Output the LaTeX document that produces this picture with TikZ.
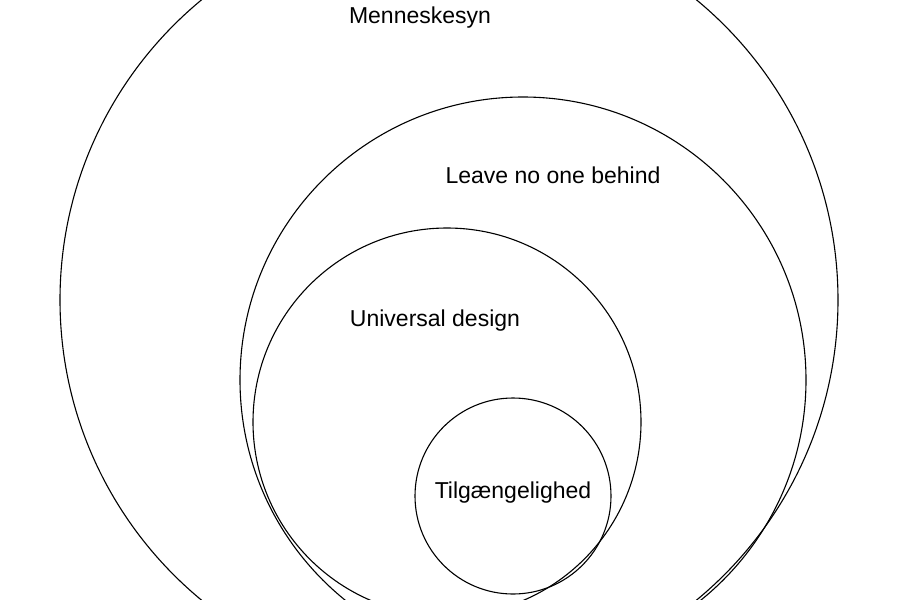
\documentclass[tikz,border=0pt]{standalone}
\usepackage{fontspec}
\setmainfont{Liberation Sans}
\begin{document}
\begin{tikzpicture}[x=1pt,y=-1pt,circ/.style={draw=black,line width=1.1pt},lbl/.style={font=\fontsize{23}{26}\selectfont}]
\useasboundingbox[fill=white] (0,0) rectangle (900,600);
\begin{scope}
\clip (0,0) rectangle (900,600);
\node[circ,circle,minimum size=778pt,inner sep=0pt] (c1) at (449,300) {};
\node[circ,circle,minimum size=566pt,inner sep=0pt] (c2) at (523,380) {};
\node[circ,circle,minimum size=388pt,inner sep=0pt] (c3) at (447,422) {};
\node[circ,circle,minimum size=196pt,inner sep=0pt] (c4) at (513,496) {};
\end{scope}
\node[lbl] (t1) at (420,18) {Menneskesyn};
\node[lbl] (t2) at (553,175) {Leave no one behind};
\node[lbl] (t3) at (435,321) {Universal design};
\node[lbl] (t4) at (513,493) {Tilgængelighed};
\end{tikzpicture}
\end{document}
